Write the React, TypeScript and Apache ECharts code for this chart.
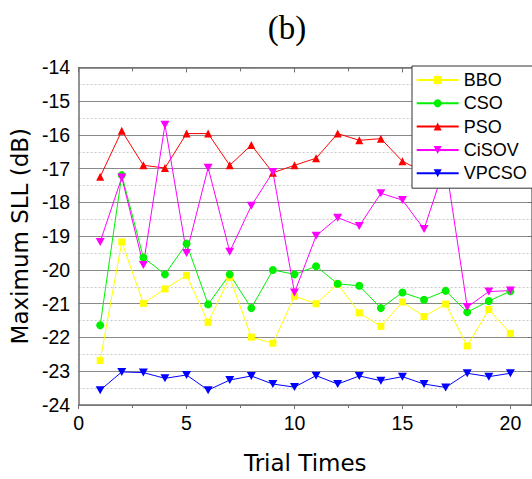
import React, { useEffect, useRef } from "react";
import * as echarts from "echarts";

const trials = [1, 2, 3, 4, 5, 6, 7, 8, 9, 10, 11, 12, 13, 14, 15, 16, 17, 18, 19, 20];
const bbo = [-22.68, -19.17, -20.99, -20.56, -20.16, -21.55, -20.22, -21.99, -22.17, -20.78, -21.0, -20.42, -21.27, -21.67, -20.95, -21.38, -21.01, -22.25, -21.17, -21.88];
const cso = [-21.64, -17.19, -19.63, -20.13, -19.22, -21.02, -20.13, -21.13, -20.0, -20.13, -19.89, -20.41, -20.47, -21.13, -20.67, -20.88, -20.62, -21.25, -20.92, -20.63];
const pso = [-17.24, -15.88, -16.9, -16.98, -15.96, -15.96, -16.9, -16.3, -17.12, -16.9, -16.69, -15.96, -16.16, -16.11, -16.78, -17.1, -16.5, -16.2, -16.6, -16.4];
const cisov = [-19.17, -17.26, -19.85, -15.7, -19.5, -16.97, -19.46, -18.1, -17.1, -20.67, -18.99, -18.45, -18.7, -17.73, -17.93, -18.79, -16.85, -21.1, -20.64, -20.61];
const vpcso = [-23.56, -23.02, -23.04, -23.21, -23.11, -23.56, -23.26, -23.14, -23.38, -23.47, -23.13, -23.38, -23.14, -23.28, -23.16, -23.38, -23.48, -23.06, -23.16, -23.06];

const DOWN_TRI = "path://M0,0 L10,0 L5,8.6 Z";

function mk(name: string, vals: number[], color: string, symbol: string, size: any) {
  return {
    name,
    type: "line",
    data: trials.map((t, i) => [t, vals[i]]),
    symbol,
    symbolSize: size,
    showAllSymbol: true,
    lineStyle: { color, width: 1 },
    itemStyle: { color },
    emphasis: { disabled: true },
  };
}

export default function App() {
  const ref = useRef<HTMLDivElement>(null);
  useEffect(() => {
    if (!ref.current) return;
    const chart = echarts.init(ref.current, undefined, { renderer: "svg" });
    const axisColor = "#707070";
    const tickFont = { fontFamily: "Liberation Sans", fontSize: 19.5, color: "#000" };
    chart.setOption({
      animation: false,
      backgroundColor: "#fff",
      graphic: [
        {
          type: "text",
          x: 287,
          y: 28,
          style: {
            text: "(b)",
            font: '33px "Liberation Serif"',
            fill: "#000",
            textAlign: "center",
            textVerticalAlign: "middle",
          },
        },
      ],
      grid: { left: 75.5, right: -2, top: 67.4, bottom: 72.3 },
      legend: {
        orient: "vertical",
        left: 412,
        top: 66,
        padding: [5, 24, 6, 3.7],
        itemGap: 5.3,
        itemWidth: 42,
        itemHeight: 10,
        backgroundColor: "#fff",
        borderColor: "#333",
        borderWidth: 1,
        borderRadius: 0,
        textStyle: { fontFamily: "Liberation Sans", fontSize: 18, color: "#000", lineHeight: 18 },
        data: ["BBO", "CSO", "PSO", "CiSOV", "VPCSO"],
        z: 10,
      },
      xAxis: [
        {
          type: "value",
          min: 0,
          max: 21,
          interval: 5,
          position: "bottom",
          name: "Trial Times",
          nameLocation: "middle",
          nameGap: 46,
          nameTextStyle: { fontFamily: "DejaVu Sans", fontSize: 23, color: "#000" },
          axisLine: { show: true, onZero: false, lineStyle: { color: axisColor, width: 1.5 } },
          axisTick: { show: true, inside: false, length: 4, lineStyle: { color: axisColor } },
          minorTick: { show: true, splitNumber: 2, length: 3, lineStyle: { color: axisColor } },
          axisLabel: { ...tickFont, margin: 8, showMaxLabel: false },
          splitLine: { show: false },
        },
        {
          type: "value",
          min: 0,
          max: 21,
          interval: 5,
          position: "top",
          axisLine: { show: true, onZero: false, lineStyle: { color: axisColor, width: 1.5 } },
          axisTick: { show: true, inside: true, length: 5, lineStyle: { color: axisColor } },
          minorTick: { show: true, splitNumber: 2, length: 4, lineStyle: { color: axisColor } },
          axisLabel: { show: false },
          splitLine: { show: false },
        },
      ],
      yAxis: [
        {
          type: "value",
          min: -24,
          max: -14,
          interval: 1,
          position: "left",
          name: "Maximum SLL (dB)",
          nameLocation: "middle",
          nameGap: 40,
          nameTextStyle: { fontFamily: "DejaVu Sans", fontSize: 23, color: "#000" },
          axisLine: { show: true, onZero: false, lineStyle: { color: axisColor, width: 1.5 } },
          axisTick: { show: false },
          axisLabel: { ...tickFont, margin: 8.5 },
          splitLine: { show: true, lineStyle: { color: "#8a8a8a", width: 1 } },
          minorTick: { show: false, splitNumber: 2 },
          minorSplitLine: { show: true, lineStyle: { color: "#c8c8c8", width: 1, type: [2, 2] } },
        },
        {
          type: "value",
          min: -24,
          max: -14,
          interval: 1,
          position: "right",
          axisLine: { show: true, onZero: false, lineStyle: { color: axisColor, width: 1.5 } },
          axisTick: { show: true, inside: true, length: 4, lineStyle: { color: axisColor } },
          axisLabel: { show: false },
          splitLine: { show: false },
        },
      ],
      series: [
        mk("BBO", bbo, "#ffff00", "rect", 7),
        mk("CSO", cso, "#00f000", "circle", 8),
        mk("PSO", pso, "#ff0000", "triangle", 8),
        mk("CiSOV", cisov, "#ff00ff", DOWN_TRI, [9, 8]),
        mk("VPCSO", vpcso, "#0000ff", DOWN_TRI, [9, 8]),
      ],
    });
    return () => chart.dispose();
  }, []);
  return (
    <div
      ref={ref}
      style={{ position: "fixed", left: 0, top: 0, width: 532, height: 479 }}
    />
  );
}
